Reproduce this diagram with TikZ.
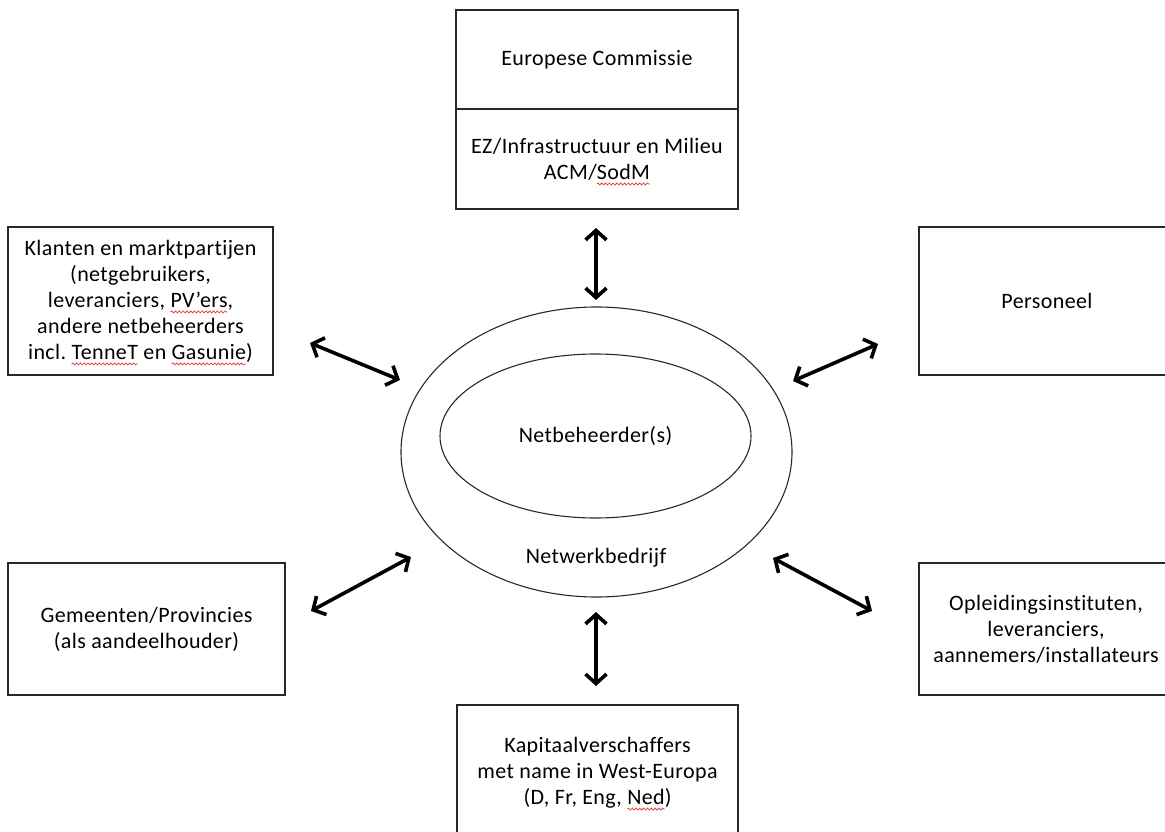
\documentclass[tikz,border=0pt]{standalone}
\usepackage{fontspec}
\setmainfont{Carlito}[LetterSpace=1.8,Ligatures=NoCommon]
\frenchspacing
\usetikzlibrary{arrows.meta,shapes.geometric,decorations.pathmorphing}
\definecolor{wavered}{RGB}{225,70,70}
\definecolor{linegray}{RGB}{40,40,40}
\newsavebox\wavebox
\newcommand\redwave[1]{\sbox\wavebox{#1}\usebox\wavebox\tikz[overlay,baseline=0pt]{\draw[wavered, line width=0.8pt, decorate, decoration={snake,amplitude=1pt,segment length=3.8pt}] (-\wd\wavebox,-4.8pt) -- (0pt,-4.8pt);}}
\begin{document}
\begin{tikzpicture}[x=1pt,y=-1pt,
  box/.style={draw=linegray, line width=1.3pt, rectangle, inner sep=0pt, align=center, font=\fontsize{22}{26}\selectfont},
  lbl/.style={inner sep=0pt, align=center, font=\fontsize{22}{26}\selectfont},
  ell/.style={draw=linegray, line width=1.1pt, ellipse, inner sep=0pt, font=\fontsize{22}{26}\selectfont},
  dbl/.style={line width=3.6pt, {Straight Barb[length=9.5pt,width=21pt]}-{Straight Barb[length=9.5pt,width=21pt]}}
]
\useasboundingbox (0,0) rectangle (1165,832);
\clip (0,0) rectangle (1165,832);

% boxes
\node[box, minimum width=282, minimum height=99] (ec) at (597,59.5) {Europese Commissie};
\node[box, minimum width=282, minimum height=100] (ez) at (597,159) {EZ/Infrastructuur en Milieu\\ACM/\redwave{SodM}};
\node[box, minimum width=265, minimum height=148] (kl) at (140.5,301) {Klanten en marktpartijen\\(netgebruikers,\\leveranciers, \redwave{PV’ers},\\andere netbeheerders\\incl. \redwave{TenneT} en \redwave{Gasunie})};
\node[box, minimum width=256, minimum height=148] (pe) at (1047,301) {Personeel};
\node[box, minimum width=277, minimum height=132] (ge) at (146.5,629) {Gemeenten/Provincies\\(als aandeelhouder)};
\node[box, minimum width=254, minimum height=132] (op) at (1046,629) {Opleidingsinstituten,\\leveranciers,\\aannemers/installateurs};
\node[box, minimum width=281, minimum height=135] (ka) at (597.5,772.5) {Kapitaalverschaffers\\met name in West-Europa\\(D, Fr, Eng, \redwave{Ned})};

% ellipses
\node[ell, minimum width=391, minimum height=290] (nw) at (596.5,452) {};
\node[ell, minimum width=311, minimum height=164] (nb) at (595.5,436) {Netbeheerder(s)};
\node[lbl] (nwl) at (596,558) {Netwerkbedrijf};

% arrows
\coordinate (t1) at (596,228);   \coordinate (t2) at (596,300);
\coordinate (b1) at (596,612);   \coordinate (b2) at (596,686);
\coordinate (ul1) at (310,343);  \coordinate (ul2) at (400,380);
\coordinate (ur1) at (878,344);  \coordinate (ur2) at (793,381);
\coordinate (ll1) at (411,557);  \coordinate (ll2) at (311,611);
\coordinate (lr1) at (773,558);  \coordinate (lr2) at (872,611);
\draw[dbl] (t1) -- (t2);
\draw[dbl] (b1) -- (b2);
\draw[dbl] (ul1) -- (ul2);
\draw[dbl] (ur1) -- (ur2);
\draw[dbl] (ll1) -- (ll2);
\draw[dbl] (lr1) -- (lr2);
\end{tikzpicture}
\end{document}
